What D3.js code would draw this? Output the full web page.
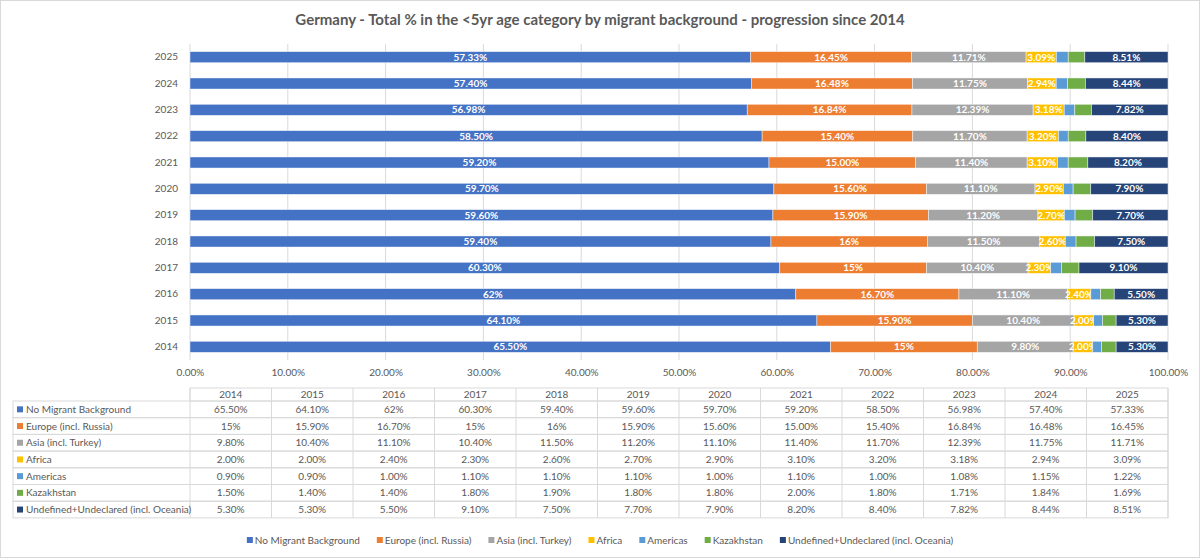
<!DOCTYPE html>
<html>
<head>
<meta charset="utf-8">
<script src="https://cdn.jsdelivr.net/npm/d3@7"></script>
<style>
  body { margin: 0; background: #fff; }
  svg { font-family: Lato, "Open Sans", sans-serif; }
</style>
</head>
<body>
<div id="chart"></div>
<script>
// Data (as shown in the picture's data table)
var years = ["2014", "2015", "2016", "2017", "2018", "2019", "2020", "2021", "2022", "2023", "2024", "2025"];
var seriesNames = ["No Migrant Background", "Europe (incl. Russia)", "Asia (incl. Turkey)", "Africa", "Americas", "Kazakhstan", "Undefined+Undeclared (incl. Oceania)"];
var noMigrant = ["65.50%", "64.10%", "62%", "60.30%", "59.40%", "59.60%", "59.70%", "59.20%", "58.50%", "56.98%", "57.40%", "57.33%"];
var europe = ["15%", "15.90%", "16.70%", "15%", "16%", "15.90%", "15.60%", "15.00%", "15.40%", "16.84%", "16.48%", "16.45%"];
var asia = ["9.80%", "10.40%", "11.10%", "10.40%", "11.50%", "11.20%", "11.10%", "11.40%", "11.70%", "12.39%", "11.75%", "11.71%"];
var africa = ["2.00%", "2.00%", "2.40%", "2.30%", "2.60%", "2.70%", "2.90%", "3.10%", "3.20%", "3.18%", "2.94%", "3.09%"];
var americas = ["0.90%", "0.90%", "1.00%", "1.10%", "1.10%", "1.10%", "1.00%", "1.10%", "1.00%", "1.08%", "1.15%", "1.22%"];
var kazakhstan = ["1.50%", "1.40%", "1.40%", "1.80%", "1.90%", "1.80%", "1.80%", "2.00%", "1.80%", "1.71%", "1.84%", "1.69%"];
var undefinedUndeclared = ["5.30%", "5.30%", "5.50%", "9.10%", "7.50%", "7.70%", "7.90%", "8.20%", "8.40%", "7.82%", "8.44%", "8.51%"];
var xTicks = [0, 0.1, 0.2, 0.3, 0.4, 0.5, 0.6, 0.7, 0.8, 0.9, 1];

var seriesText = [noMigrant, europe, asia, africa, americas, kazakhstan, undefinedUndeclared];
var colors = ["#4472C4", "#ED7D31", "#A5A5A5", "#FFC000", "#5B9BD5", "#70AD47", "#264478"];
var showLabel = [true, true, true, true, false, false, true];

// Chart parameters
var svgWidth = 1200;
var svgHeight = 558;
var plot = { left: 190, right: 1168, top: 44, bottom: 360 };

var svg = d3.select("#chart")
    .append("svg")
    .attr("width", svgWidth)
    .attr("height", svgHeight);

// outer border
svg.append("rect")
    .attr("x", 0.5).attr("y", 0.5)
    .attr("width", svgWidth - 1).attr("height", svgHeight - 1)
    .attr("fill", "#fff")
    .attr("stroke", "#d9d9d9");

// title
svg.append("text")
    .attr("x", 600)
    .attr("y", 25)
    .attr("text-anchor", "middle")
    .attr("font-size", "15px")
    .attr("font-weight", "bold")
    .attr("fill", "#595959")
    .text("Germany - Total % in the <5yr age category by migrant background - progression since 2014");

// build rows for stacking
var rows = years.map(function(y, i) {
    var row = { year: y };
    seriesNames.forEach(function(s, k) {
        row[s] = parseFloat(seriesText[k][i]);
    });
    return row;
});

var stack = d3.stack()
    .keys(seriesNames)
    .offset(d3.stackOffsetExpand);
var stacked = stack(rows);

// scales
var xScale = d3.scaleLinear()
    .domain([0, 1])
    .range([plot.left, plot.right]);

var yScale = d3.scaleBand()
    .domain(years.slice().reverse())
    .range([plot.top, plot.bottom])
    .paddingInner(0.58)
    .paddingOuter(0.29);

// gridlines
svg.append("g")
    .selectAll("line")
    .data(xTicks)
    .enter().append("line")
    .attr("x1", d => xScale(d)).attr("x2", d => xScale(d))
    .attr("y1", plot.top).attr("y2", plot.bottom)
    .attr("stroke", "#d9d9d9")
    .attr("stroke-width", 1);

// x axis labels
var bottomAxis = d3.axisBottom(xScale)
    .tickValues(xTicks)
    .tickFormat(d3.format(".2%"))
    .tickSize(0)
    .tickPadding(9);
var xAxisG = svg.append("g")
    .attr("transform", `translate(0, ${plot.bottom})`)
    .call(bottomAxis);
xAxisG.select(".domain").remove();
xAxisG.selectAll("text")
    .attr("font-family", "Lato, sans-serif")
    .attr("font-size", "10px")
    .attr("fill", "#595959");

// y axis labels
var leftAxis = d3.axisLeft(yScale).tickSize(0).tickPadding(12);
var yAxisG = svg.append("g")
    .attr("transform", `translate(${plot.left}, 0)`)
    .call(leftAxis);
yAxisG.select(".domain").remove();
yAxisG.selectAll("text")
    .attr("font-family", "Lato, sans-serif")
    .attr("font-size", "10px")
    .attr("fill", "#595959");

// bars
var layers = svg.append("g")
    .selectAll("g")
    .data(stacked)
    .enter().append("g")
    .attr("fill", (d, i) => colors[i]);

layers.selectAll("rect")
    .data(d => d)
    .enter().append("rect")
    .attr("x", d => xScale(d[0]))
    .attr("y", d => yScale(d.data.year))
    .attr("width", d => xScale(d[1]) - xScale(d[0]))
    .attr("height", yScale.bandwidth())
    .attr("stroke", "#ffffff")
    .attr("stroke-opacity", 0.6)
    .attr("stroke-width", 0.75);

// labels in bars
layers.each(function(layer, k) {
    if (!showLabel[k]) return;
    d3.select(this).selectAll("text")
        .data(layer)
        .enter().append("text")
        .attr("x", d => (xScale(d[0]) + xScale(d[1])) / 2)
        .attr("y", d => yScale(d.data.year) + yScale.bandwidth() / 2)
        .attr("dy", "0.35em")
        .attr("text-anchor", "middle")
        .attr("font-size", "10px")
        .attr("font-weight", "bold")
        .attr("fill", "#ffffff")
        .text((d, i) => seriesText[k][i]);
});

// data table
var table = { left: 13, labelRight: 190, top: 388, headerH: 13, rowH: 16.7 };
var colX = d3.scaleBand().domain(years).range([plot.left, plot.right]);
var tg = svg.append("g");
var gridColor = "#d9d9d9";

// header row (only over year columns)
tg.append("rect")
    .attr("x", plot.left).attr("y", table.top)
    .attr("width", plot.right - plot.left).attr("height", table.headerH)
    .attr("fill", "none").attr("stroke", gridColor);
years.forEach(function(y) {
    tg.append("line")
        .attr("x1", colX(y)).attr("x2", colX(y))
        .attr("y1", table.top).attr("y2", table.top + table.headerH + table.rowH * seriesNames.length)
        .attr("stroke", gridColor);
    tg.append("text")
        .attr("x", colX(y) + colX.bandwidth() / 2)
        .attr("y", table.top + table.headerH / 2)
        .attr("dy", "0.35em")
        .attr("text-anchor", "middle")
        .attr("font-size", "10px")
        .attr("fill", "#595959")
        .text(y);
});

var bodyTop = table.top + table.headerH;
seriesNames.forEach(function(s, k) {
    var ry = bodyTop + k * table.rowH;
    tg.append("rect")
        .attr("x", table.left).attr("y", ry)
        .attr("width", plot.right - table.left).attr("height", table.rowH)
        .attr("fill", "none").attr("stroke", gridColor);
    tg.append("rect")
        .attr("x", table.left + 4).attr("y", ry + table.rowH / 2 - 3)
        .attr("width", 6).attr("height", 6)
        .attr("fill", colors[k]);
    tg.append("text")
        .attr("x", table.left + 13)
        .attr("y", ry + table.rowH / 2)
        .attr("dy", "0.35em")
        .attr("font-size", "10px")
        .attr("fill", "#595959")
        .text(s);
    years.forEach(function(y, i) {
        tg.append("text")
            .attr("x", colX(y) + colX.bandwidth() / 2)
            .attr("y", ry + table.rowH / 2)
            .attr("dy", "0.35em")
            .attr("text-anchor", "middle")
            .attr("font-size", "10px")
            .attr("fill", "#595959")
            .text(seriesText[k][i]);
    });
});
tg.append("line")
    .attr("x1", plot.right).attr("x2", plot.right)
    .attr("y1", table.top).attr("y2", bodyTop + table.rowH * seriesNames.length)
    .attr("stroke", gridColor);

// legend
var legend = svg.append("g");
var lx = 0;
seriesNames.forEach(function(s, k) {
    var g = legend.append("g").attr("transform", `translate(${lx}, 0)`);
    g.append("rect").attr("x", 0).attr("y", -3).attr("width", 6).attr("height", 6).attr("fill", colors[k]);
    var t = g.append("text")
        .attr("x", 8).attr("dy", "0.35em")
        .attr("font-size", "10px")
        .attr("fill", "#595959")
        .text(s);
    lx += 8 + t.node().getComputedTextLength() + 17;
});
var legendW = lx - 17;
legend.attr("transform", `translate(${600 - legendW / 2}, 540)`);
</script>
</body>
</html>
